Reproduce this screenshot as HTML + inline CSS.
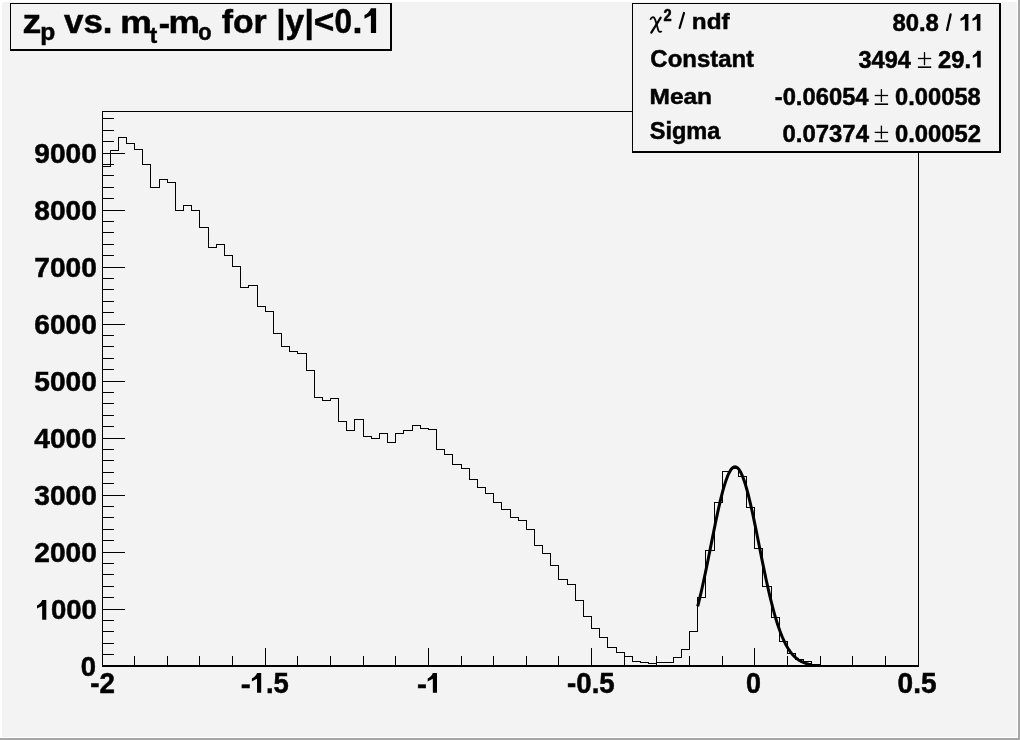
<!DOCTYPE html>
<html><head><meta charset="utf-8"><style>
html,body{margin:0;padding:0;background:#f3f3f3;}
svg{display:block;}
text{will-change:transform;}
text{font-family:"Liberation Sans",sans-serif;font-weight:bold;fill:#000;stroke:#000;stroke-width:0.5px;}
</style></head><body>
<svg width="1020" height="740" viewBox="0 0 1020 740">
<rect x="0" y="0" width="1020" height="740" fill="#f3f3f3"/>
<rect x="0" y="0" width="1020" height="2" fill="#fff"/>
<rect x="0" y="0" width="2" height="740" fill="#fff"/>
<rect x="1017" y="0" width="1" height="738" fill="#fff"/>
<rect x="0" y="737" width="1018" height="1" fill="#fff"/>
<rect x="1018" y="0" width="2" height="740" fill="#a6a6a6"/>
<rect x="0" y="738" width="1020" height="2" fill="#a6a6a6"/>
<g fill="#000" shape-rendering="crispEdges">
<rect x="102" y="111" width="817" height="1"/>
<rect x="102" y="111" width="1" height="556"/>
<rect x="918" y="111" width="1" height="556"/>
<rect x="102" y="665" width="817" height="2"/>
<rect x="102" y="654" width="12" height="1"/><rect x="102" y="643" width="12" height="1"/><rect x="102" y="631" width="12" height="1"/><rect x="102" y="620" width="12" height="1"/><rect x="102" y="609" width="23" height="1"/><rect x="102" y="597" width="12" height="1"/><rect x="102" y="586" width="12" height="1"/><rect x="102" y="574" width="12" height="1"/><rect x="102" y="563" width="12" height="1"/><rect x="102" y="552" width="23" height="1"/><rect x="102" y="540" width="12" height="1"/><rect x="102" y="529" width="12" height="1"/><rect x="102" y="517" width="12" height="1"/><rect x="102" y="506" width="12" height="1"/><rect x="102" y="495" width="23" height="1"/><rect x="102" y="483" width="12" height="1"/><rect x="102" y="472" width="12" height="1"/><rect x="102" y="460" width="12" height="1"/><rect x="102" y="449" width="12" height="1"/><rect x="102" y="438" width="23" height="1"/><rect x="102" y="426" width="12" height="1"/><rect x="102" y="415" width="12" height="1"/><rect x="102" y="403" width="12" height="1"/><rect x="102" y="392" width="12" height="1"/><rect x="102" y="381" width="23" height="1"/><rect x="102" y="369" width="12" height="1"/><rect x="102" y="358" width="12" height="1"/><rect x="102" y="346" width="12" height="1"/><rect x="102" y="335" width="12" height="1"/><rect x="102" y="324" width="23" height="1"/><rect x="102" y="312" width="12" height="1"/><rect x="102" y="301" width="12" height="1"/><rect x="102" y="289" width="12" height="1"/><rect x="102" y="278" width="12" height="1"/><rect x="102" y="267" width="23" height="1"/><rect x="102" y="255" width="12" height="1"/><rect x="102" y="244" width="12" height="1"/><rect x="102" y="232" width="12" height="1"/><rect x="102" y="221" width="12" height="1"/><rect x="102" y="210" width="23" height="1"/><rect x="102" y="198" width="12" height="1"/><rect x="102" y="187" width="12" height="1"/><rect x="102" y="175" width="12" height="1"/><rect x="102" y="164" width="12" height="1"/><rect x="102" y="153" width="23" height="1"/><rect x="102" y="141" width="12" height="1"/><rect x="102" y="130" width="12" height="1"/><rect x="102" y="118" width="12" height="1"/><rect x="102" y="648" width="1" height="17"/><rect x="134" y="656" width="1" height="9"/><rect x="167" y="656" width="1" height="9"/><rect x="199" y="656" width="1" height="9"/><rect x="232" y="656" width="1" height="9"/><rect x="265" y="648" width="1" height="17"/><rect x="297" y="656" width="1" height="9"/><rect x="330" y="656" width="1" height="9"/><rect x="363" y="656" width="1" height="9"/><rect x="395" y="656" width="1" height="9"/><rect x="428" y="648" width="1" height="17"/><rect x="461" y="656" width="1" height="9"/><rect x="493" y="656" width="1" height="9"/><rect x="526" y="656" width="1" height="9"/><rect x="558" y="656" width="1" height="9"/><rect x="591" y="648" width="1" height="17"/><rect x="624" y="656" width="1" height="9"/><rect x="656" y="656" width="1" height="9"/><rect x="689" y="656" width="1" height="9"/><rect x="722" y="656" width="1" height="9"/><rect x="754" y="648" width="1" height="17"/><rect x="787" y="656" width="1" height="9"/><rect x="820" y="656" width="1" height="9"/><rect x="852" y="656" width="1" height="9"/><rect x="885" y="656" width="1" height="9"/><rect x="918" y="648" width="1" height="17"/>
</g>
<path d="M102.5,665.5 V166.5 H110.5 V150.5 H118.5 V137.5 H126.5 V143.5 H134.5 V149.5 H142.5 V164.5 H150.5 V187.5 H159.5 V179.5 H167.5 V182.5 H175.5 V210.5 H183.5 V205.5 H191.5 V210.5 H199.5 V227.5 H208.5 V247.5 H216.5 V244.5 H224.5 V255.5 H232.5 V266.5 H240.5 V287.5 H248.5 V285.5 H257.5 V306.5 H265.5 V311.5 H273.5 V333.5 H281.5 V346.5 H289.5 V351.5 H297.5 V353.5 H306.5 V370.5 H314.5 V397.5 H322.5 V400.5 H330.5 V398.5 H338.5 V421.5 H346.5 V430.5 H354.5 V419.5 H363.5 V436.5 H371.5 V438.5 H379.5 V433.5 H387.5 V442.5 H395.5 V433.5 H403.5 V430.5 H412.5 V425.5 H420.5 V428.5 H428.5 V429.5 H436.5 V449.5 H444.5 V454.5 H452.5 V464.5 H461.5 V468.5 H469.5 V479.5 H477.5 V487.5 H485.5 V493.5 H493.5 V502.5 H501.5 V509.5 H510.5 V517.5 H518.5 V520.5 H526.5 V529.5 H534.5 V545.5 H542.5 V553.5 H550.5 V565.5 H558.5 V579.5 H567.5 V584.5 H575.5 V600.5 H583.5 V616.5 H591.5 V628.5 H599.5 V637.5 H607.5 V647.5 H616.5 V652.5 H624.5 V656.5 H632.5 V661.5 H640.5 V662.5 H648.5 V663.5 H656.5 V662.5 H665.5 V662.5 H673.5 V657.5 H681.5 V649.5 H689.5 V631.5 H697.5 V597.5 H705.5 V550.5 H714.5 V502.5 H722.5 V471.5 H730.5 V468.5 H738.5 V476.5 H746.5 V507.5 H754.5 V548.5 H762.5 V586.5 H771.5 V617.5 H779.5 V641.5 H787.5 V653.5 H795.5 V659.5 H803.5 V661.5 H811.5 V664.5 H820.5 V665.5 H828.5 V665.5 H836.5 V665.5 H844.5 V665.5 H852.5 V665.5 H860.5 V665.5 H869.5 V665.5 H877.5 V665.5 H885.5 V665.5 H893.5 V665.5 H901.5 V665.5 H909.5 V665.5 H918.5 V665.5" fill="none" stroke="#000" stroke-width="1" shape-rendering="crispEdges"/>
<polyline points="697.68,606.29 698.82,601.80 699.96,597.13 701.11,592.28 702.25,587.26 703.39,582.10 704.53,576.80 705.68,571.37 706.82,565.84 707.96,560.23 709.10,554.56 710.25,548.84 711.39,543.11 712.53,537.39 713.67,531.70 714.82,526.08 715.96,520.55 717.10,515.14 718.24,509.88 719.39,504.81 720.53,499.94 721.67,495.31 722.81,490.95 723.96,486.88 725.10,483.13 726.24,479.72 727.38,476.67 728.52,474.01 729.67,471.74 730.81,469.89 731.95,468.47 733.09,467.49 734.24,466.95 735.38,466.86 736.52,467.22 737.66,468.02 738.81,469.27 739.95,470.94 741.09,473.04 742.23,475.54 743.38,478.44 744.52,481.70 745.66,485.32 746.80,489.26 747.95,493.51 749.09,498.03 750.23,502.81 751.37,507.80 752.52,512.99 753.66,518.34 754.80,523.82 755.94,529.41 757.08,535.07 758.23,540.78 759.37,546.52 760.51,552.24 761.65,557.94 762.80,563.58 763.94,569.14 765.08,574.61 766.22,579.96 767.37,585.19 768.51,590.26 769.65,595.18 770.79,599.93 771.94,604.49 773.08,608.88 774.22,613.06 775.36,617.05 776.51,620.85 777.65,624.44 778.79,627.83 779.93,631.03 781.08,634.03 782.22,636.83 783.36,639.45 784.50,641.89 785.64,644.16 786.79,646.26 787.93,648.19 789.07,649.97 790.21,651.61 791.36,653.11 792.50,654.48 793.64,655.72 794.78,656.85 795.93,657.88 797.07,658.81 798.21,659.64 799.35,660.39 800.50,661.07 801.64,661.67 802.78,662.21 803.92,662.68 805.07,663.11 806.21,663.48 807.35,663.82 808.49,664.11 809.64,664.37 810.78,664.59 811.92,664.79" fill="none" stroke="#000" stroke-width="3" stroke-linejoin="round"/>
<g shape-rendering="crispEdges">
<rect x="10" y="3" width="382" height="48" fill="#f3f3f3"/>
<rect x="10" y="3" width="382" height="1" fill="#000"/>
<rect x="10" y="3" width="1" height="48" fill="#000"/>
<rect x="390" y="3" width="2" height="48" fill="#000"/>
<rect x="10" y="49" width="382" height="2" fill="#000"/>
<rect x="632" y="3" width="369" height="150" fill="#f3f3f3"/>
<rect x="632" y="3" width="369" height="1" fill="#000"/>
<rect x="632" y="3" width="1" height="150" fill="#000"/>
<rect x="999" y="3" width="2" height="150" fill="#000"/>
<rect x="632" y="151" width="369" height="2" fill="#000"/>
</g>
<path d="M650.4,19.8 C650.8,17.6 652.8,16.6 654.3,17.8 C655.5,19 657.2,27 658.3,30.2 C658.9,32 660.4,32.6 661.6,31" fill="none" stroke="#000" stroke-width="1.8"/>
<path d="M660.7,17.6 L651.3,32.6" fill="none" stroke="#000" stroke-width="2.2" stroke-linecap="round"/>
<path d="M684.0,13.0 L679.6,28.0" fill="none" stroke="#000" stroke-width="2.2" stroke-linecap="round"/>
<path d="M950.6,14.4 L947.1,29.9" fill="none" stroke="#000" stroke-width="2.3" stroke-linecap="round"/>
<line x1="924.5" y1="52.1" x2="924.5" y2="65.2" stroke="#000" stroke-width="1.3"/><line x1="917.9" y1="58.5" x2="931.2" y2="58.5" stroke="#000" stroke-width="1.3"/><line x1="917.9" y1="67.2" x2="931.2" y2="67.2" stroke="#000" stroke-width="1.6"/><line x1="881.4" y1="89.1" x2="881.4" y2="102" stroke="#000" stroke-width="1.3"/><line x1="874.7" y1="95.5" x2="888.1" y2="95.5" stroke="#000" stroke-width="1.3"/><line x1="874.7" y1="104.2" x2="888.1" y2="104.2" stroke="#000" stroke-width="1.6"/><line x1="881.4" y1="125.6" x2="881.4" y2="138.9" stroke="#000" stroke-width="1.3"/><line x1="874.7" y1="132.4" x2="888.1" y2="132.4" stroke="#000" stroke-width="1.3"/><line x1="874.7" y1="141.3" x2="888.1" y2="141.3" stroke="#000" stroke-width="1.6"/>
<path d="M370.91,8.20 H376.10 V32.90 H370.91 V15.61 L364.49,18.82 V15.12 C367.45,13.63 369.93,11.16 370.91,8.20 Z" fill="#000"/><path d="M964.87,13.90 H968.40 V30.70 H964.87 V18.94 L960.50,21.12 V18.60 C962.52,17.60 964.20,15.92 964.87,13.90 Z" fill="#000"/><path d="M976.87,13.90 H980.40 V30.70 H976.87 V18.94 L972.50,21.12 V18.60 C974.52,17.60 976.20,15.92 976.87,13.90 Z" fill="#000"/><path d="M977.17,50.80 H980.70 V67.60 H977.17 V55.84 L972.80,58.02 V55.50 C974.82,54.50 976.50,52.82 977.17,50.80 Z" fill="#000"/><path d="M257.04,672.90 H261.20 V692.70 H257.04 V678.84 L251.89,681.41 V678.44 C254.27,677.26 256.25,675.28 257.04,672.90 Z" fill="#000"/><path d="M432.84,672.90 H437.00 V692.70 H432.84 V678.84 L427.69,681.41 V678.44 C430.07,677.26 432.05,675.28 432.84,672.90 Z" fill="#000"/><path d="M42.16,600.00 H46.30 V619.70 H42.16 V605.91 L37.04,608.47 V605.52 C39.40,604.33 41.37,602.36 42.16,600.00 Z" fill="#000"/>
<text transform="matrix(1.1399,0,0,1.0286,22.40,32.50)" font-size="33">z</text>
<text transform="matrix(1.0683,0,0,1.0162,40.23,39.70)" font-size="23">p</text>
<text transform="matrix(1.0582,0,0,1.0012,64.00,33.23)" font-size="33">vs.</text>
<text transform="matrix(1.0759,0,0,0.9596,120.27,32.51)" font-size="33">m</text>
<text transform="matrix(0.9752,0,0,0.9908,149.82,43.27)" font-size="23">t</text>
<text transform="matrix(1.0289,0,0,1.0000,158.75,35.25)" font-size="33">-</text>
<text transform="matrix(1.0739,0,0,0.9596,168.60,32.51)" font-size="33">m</text>
<text transform="matrix(0.9466,0,0,1.0152,198.19,39.77)" font-size="23">o</text>
<text transform="matrix(1.0240,0,0,1.0316,221.64,32.75)" font-size="33">for</text>
<text transform="matrix(0.9659,0,0,1.0292,276.60,32.65)" font-size="33">|</text>
<text transform="matrix(1.0145,0,0,1.0309,285.52,33.04)" font-size="33">y</text>
<text transform="matrix(1.0063,0,0,1.0292,304.47,32.65)" font-size="33">|</text>
<text transform="matrix(1.0658,0,0,1.0123,313.74,32.52)" font-size="33">&lt;</text>
<text transform="matrix(0.9529,0,0,1.0760,334.60,33.24)" font-size="33">0</text>
<text transform="matrix(1.0885,0,0,1.0000,352.39,33.00)" font-size="33">.</text>
<text transform="matrix(0.9805,0,0,1.1500,663.45,21.29)" font-size="15">2</text>
<text transform="matrix(1.0133,0,0,0.9498,691.87,28.77)" font-size="24">ndf</text>
<text transform="matrix(0.9961,0,0,1.0308,892.40,31.27)" font-size="24">80.8</text>
<text transform="matrix(0.9978,0,0,0.9709,650.36,67.25)" font-size="24">Constant</text>
<text transform="matrix(0.9815,0,0,1.0000,858.52,67.75)" font-size="24">3494</text>
<text transform="matrix(0.9894,0,0,1.0013,938.10,67.74)" font-size="24">29.</text>
<text transform="matrix(1.0194,0,0,0.9566,649.50,104.25)" font-size="24">Mean</text>
<text transform="matrix(0.9914,0,0,1.0000,774.73,104.75)" font-size="24">-0.06054</text>
<text transform="matrix(0.9880,0,0,1.0298,895.08,104.74)" font-size="24">0.00058</text>
<text transform="matrix(0.9827,0,0,0.9920,649.68,139.49)" font-size="24">Sigma</text>
<text transform="matrix(0.9975,0,0,1.0000,782.43,141.75)" font-size="24">0.07374</text>
<text transform="matrix(0.9912,0,0,0.9792,895.02,141.78)" font-size="24">0.00052</text>
<text transform="matrix(0.9922,0,0,1.0529,90.29,692.98)" font-size="28">-2</text>
<text transform="matrix(1.0735,0,0,1.0000,240.84,694.18)" font-size="28">-</text>
<text transform="matrix(0.9810,0,0,1.0529,265.89,692.72)" font-size="28">.5</text>
<text transform="matrix(1.0653,0,0,1.0000,417.03,694.13)" font-size="28">-</text>
<text transform="matrix(0.9869,0,0,1.0396,567.08,692.72)" font-size="28">-0.5</text>
<text transform="matrix(0.9607,0,0,1.0402,746.12,692.73)" font-size="28">0</text>
<text transform="matrix(1.0027,0,0,1.0396,897.58,692.72)" font-size="28">0.5</text>
<text transform="matrix(0.9845,0,0,1.0146,50.94,619.24)" font-size="28">000</text>
<text transform="matrix(0.9799,0,0,0.9943,80.78,676.31)" font-size="28">0</text>
<text transform="matrix(1.0059,0,0,1.0188,34.27,562.33)" font-size="28">2000</text>
<text transform="matrix(1.0059,0,0,1.0188,34.27,505.33)" font-size="28">3000</text>
<text transform="matrix(1.0059,0,0,1.0188,34.27,448.33)" font-size="28">4000</text>
<text transform="matrix(1.0059,0,0,1.0190,34.27,391.33)" font-size="28">5000</text>
<text transform="matrix(1.0059,0,0,1.0188,34.27,334.33)" font-size="28">6000</text>
<text transform="matrix(1.0059,0,0,1.0188,34.27,277.33)" font-size="28">7000</text>
<text transform="matrix(1.0059,0,0,1.0190,34.27,220.33)" font-size="28">8000</text>
<text transform="matrix(1.0059,0,0,1.0188,34.27,163.33)" font-size="28">9000</text>
</svg>
</body></html>
